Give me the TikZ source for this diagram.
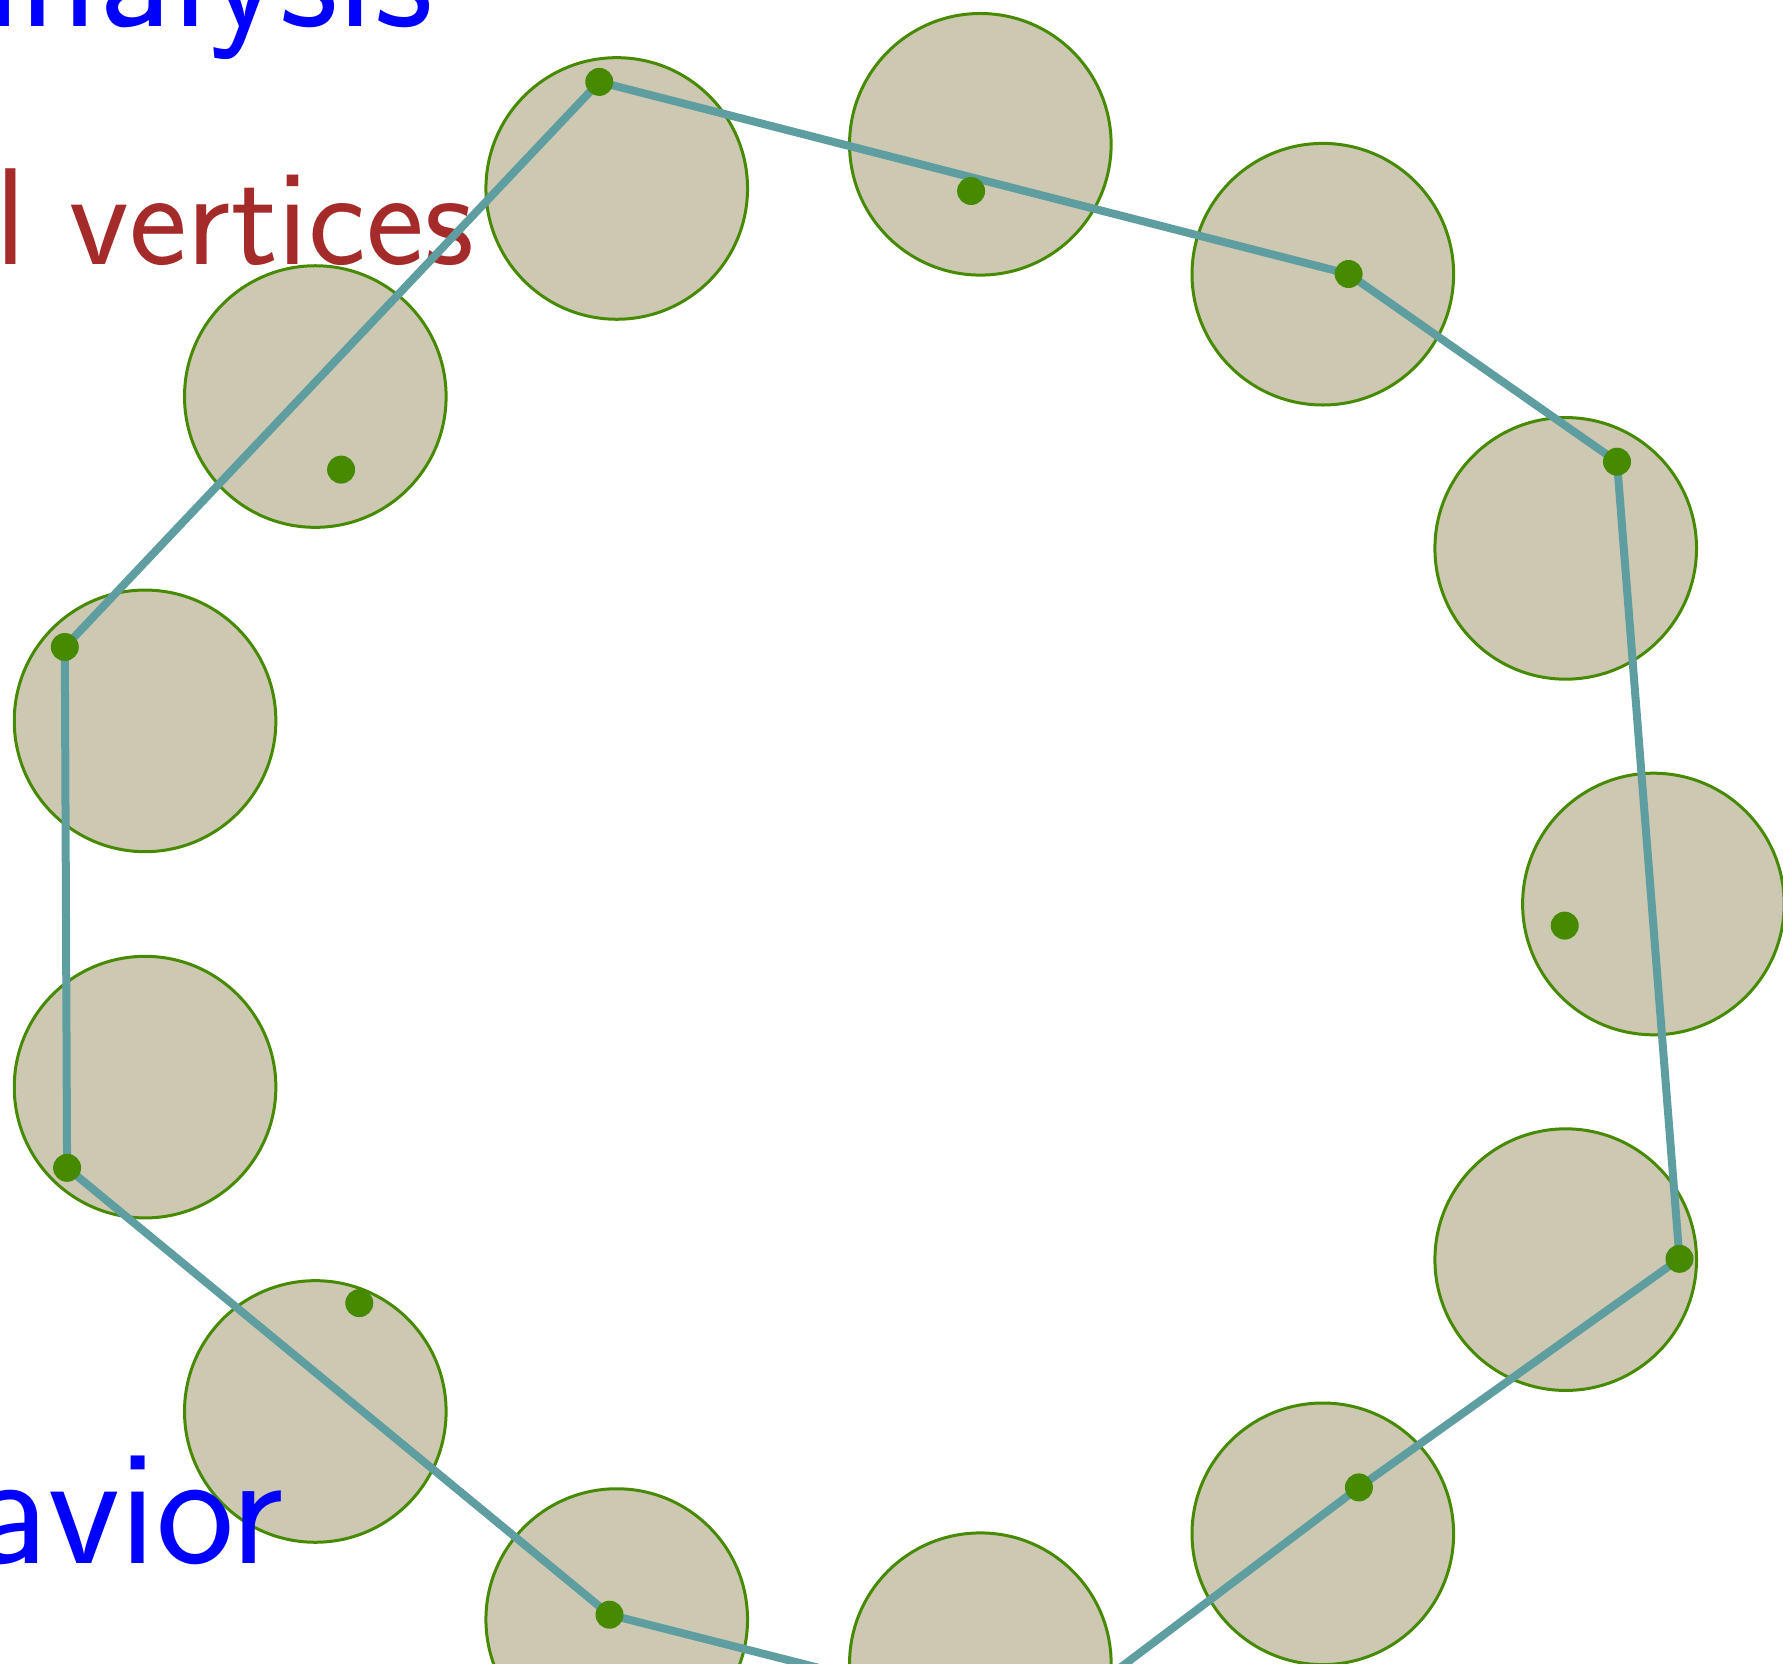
\documentclass[tikz,border=0pt]{standalone}
\usepackage{fontspec}
\definecolor{ringfill}{RGB}{205,200,177}
\definecolor{ringedge}{RGB}{70,138,0}
\definecolor{hullcol}{RGB}{95,158,160}
\definecolor{brownred}{RGB}{165,42,42}
\begin{document}
\begin{tikzpicture}[x=1pt,y=-1pt,
  disc/.style={circle, draw=ringedge, fill=ringfill, line width=3pt, minimum size=261.6pt, inner sep=0pt},
  vtx/.style={circle, fill=ringedge, minimum size=28pt, inner sep=0pt},
  hulledge/.style={draw=hullcol, line width=8pt, line join=round},
  lbl/.style={anchor=base east, inner sep=0pt}]
\useasboundingbox (0,0) rectangle (1783,1664);
\clip (0,0) rectangle (1783,1664);
\foreach \k in {0,...,12} {
  \pgfmathsetmacro\ang{\k*360/13}
  \node[disc] (c\k) at ({888.1+765.3*cos(\ang)},{904-765.3*sin(\ang)}) {};
}
\node[lbl, text=blue, font=\sffamily\fontsize{163}{170}\selectfont] (t1) at (433,27) {analysis};
\node[lbl, text=brownred, font=\sffamily\fontsize{138}{145}\selectfont] (t2) at (474,265) {l vertices};
\node[lbl, text=blue, font=\sffamily\fontsize{166}{170}\selectfont] (t3) at (284,1563) {avior};
\coordinate (p0) at (1564.7,925.6);
\coordinate (p1) at (1617.0,461.7);
\coordinate (p2) at (1348.6,274.0);
\coordinate (p3) at (971.1,191.0);
\coordinate (p4) at (599.3,81.9);
\coordinate (p5) at (341.1,469.6);
\coordinate (p6) at (64.8,647.0);
\coordinate (p7) at (67.1,1167.8);
\coordinate (p8) at (359.3,1303.1);
\coordinate (p9) at (609.5,1614.7);
\coordinate (p10) at (1044.2,1725.1);
\coordinate (p11) at (1358.9,1487.4);
\coordinate (p12) at (1679.5,1258.8);
\draw[hulledge] (p4) -- (p2) -- (p1) -- (p12) -- (p11) -- (p10) -- (p9) -- (p7) -- (p6) -- cycle;
\foreach \k in {0,...,12} {
  \node[vtx] (d\k) at (p\k) {};
}
\end{tikzpicture}
\end{document}
